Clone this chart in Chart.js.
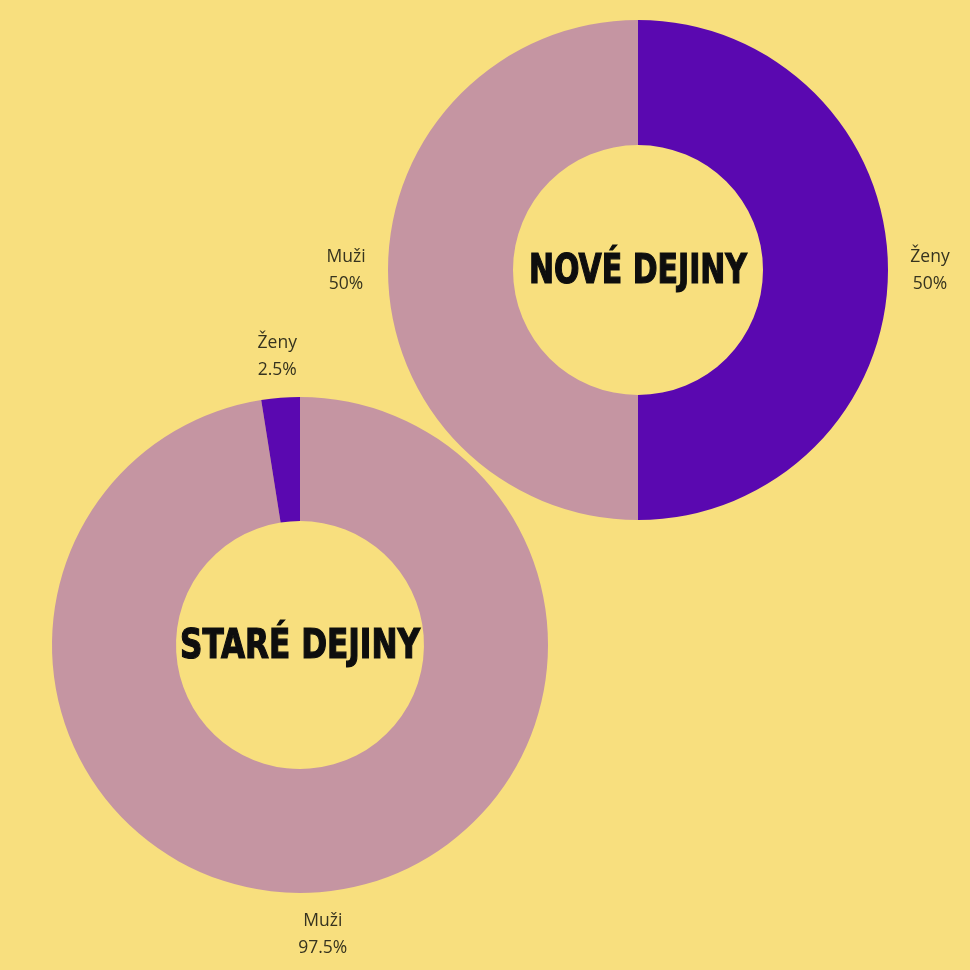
<!DOCTYPE html>
<html>
<head>
<meta charset="utf-8">
<script src="https://cdn.jsdelivr.net/npm/chart.js@4.4.0/dist/chart.umd.min.js"></script>
<style>
  html, body { margin: 0; padding: 0; }
  body { width: 970px; height: 970px; background: #F8DF7E; position: relative; overflow: hidden; }
  .box { position: absolute; width: 700px; height: 700px; }
</style>
</head>
<body>
<div class="box" style="left:288px; top:-80px;"><canvas id="noveChart"></canvas></div>
<div class="box" style="left:-50px; top:295px;"><canvas id="stareChart"></canvas></div>
<script>
// data
var noveLabels = ['Ženy', 'Muži'];
var noveValues = [50, 50];
var stareLabels = ['Muži', 'Ženy'];
var stareValues = [97.5, 2.5];

var colorZeny = '#5A08B0',
	colorMuzi = '#C595A2';

// labels outside slices + big title in the hole
var outsideLabels = {
	id: 'outsideLabels',
	afterDraw: function(chart, args, opts){
		var ctx = chart.ctx;
		var meta = chart.getDatasetMeta(0);
		var data = chart.data.datasets[0].data;
		ctx.save();
		ctx.fillStyle = '#36331F';
		ctx.font = '17.5px "Open Sans"';
		ctx.textAlign = 'center';
		ctx.textBaseline = 'middle';
		meta.data.forEach(function(arc, i){
			var mid = (arc.startAngle + arc.endAngle) / 2,
				r = arc.outerRadius + 42;
			var x = arc.x + Math.cos(mid) * r,
				y = arc.y + Math.sin(mid) * r;
			ctx.fillText(chart.data.labels[i], x, y - 13);
			ctx.fillText(data[i] + '%', x, y + 14);
		});

		// title
		var arc0 = meta.data[0];
		ctx.fillStyle = '#0E0E0E';
		ctx.font = 'bold 40px "DejaVu Sans Condensed"';
		var w = ctx.measureText(opts.title).width;
		ctx.translate(arc0.x + opts.dx, arc0.y + opts.dy);
		ctx.scale(opts.width / w, 1);
		ctx.lineWidth = 1.2;
		ctx.strokeStyle = '#0E0E0E';
		ctx.fillText(opts.title, 0, 0);
		ctx.strokeText(opts.title, 0, 0);
		ctx.restore();
	}
};

function makeDoughnut(id, labels, values, colors, pad, title, titleWidth, dy){
	var ctx = document.getElementById(id).getContext('2d');
	return new Chart(ctx, {
		type: 'doughnut',
		data: {
			labels: labels,
			datasets: [{
				data: values,
				backgroundColor: colors,
				borderWidth: 0
			}]
		},
		options: {
			responsive: true,
			maintainAspectRatio: false,
			animation: false,
			cutout: '50%',
			layout: { padding: pad },
			plugins: {
				legend: { display: false },
				tooltip: { enabled: false },
				outsideLabels: { title: title, width: titleWidth, dx: 0, dy: dy }
			}
		},
		plugins: [outsideLabels]
	});
}

var noveChart = makeDoughnut('noveChart', noveLabels, noveValues, [colorZeny, colorMuzi], 100, 'NOVÉ DEJINY', 218, 3);
var stareChart = makeDoughnut('stareChart', stareLabels, stareValues, [colorMuzi, colorZeny], 102, 'STARÉ DEJINY', 240, 3);
</script>
</body>
</html>
